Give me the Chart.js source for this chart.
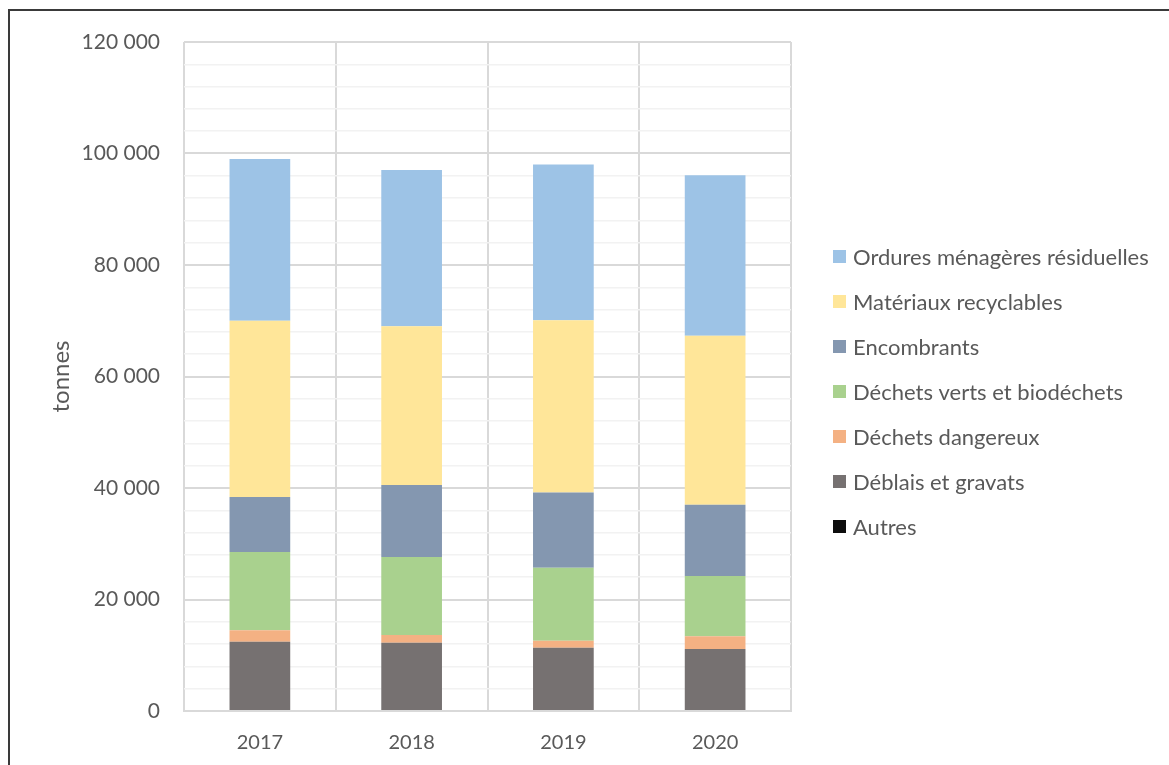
<!DOCTYPE html>
<html>
<head>
<meta charset="utf-8">
<script src="https://cdn.jsdelivr.net/npm/chart.js@4"></script>
<style>
  html, body { margin: 0; padding: 0; background: #fff; }
  #wrap { position: relative; width: 1169px; height: 765px; overflow: hidden; }
  #frame { position: absolute; left: 8px; top: 9px; width: 1200px; height: 800px;
           border-top: 2px solid #3a3a3a; border-left: 2px solid #3a3a3a; }
  canvas { position: absolute; left: 0; top: 0; }
</style>
</head>
<body>
<div id="wrap">
  <div id="frame"></div>
  <canvas id="chart" width="1169" height="765"></canvas>
</div>
<script>
// données (tonnes)
const years = ["2017", "2018", "2019", "2020"];
const autres = [0, 0, 0, 0];
const deblais = [12400, 12250, 11350, 11100];
const dangereux = [2100, 1380, 1260, 2300];
const verts = [14000, 14000, 13100, 10800];
const encombrants = [9900, 12900, 13500, 12800];
const recyclables = [31600, 28500, 30900, 30300];
const omr = [29000, 28000, 27900, 28800];

const fontFamily = "Lato, 'Open Sans', sans-serif";
const textColor = "#595959";

function fmt(v) {
  return String(v).replace(/\B(?=(\d{3})+(?!\d))/g, " ");
}

function ds(label, data, color) {
  return {
    label: label,
    data: data,
    backgroundColor: color,
    borderWidth: 0,
    barPercentage: 0.4,
    categoryPercentage: 1.0
  };
}

// légende à droite, style Excel (série du haut en premier)
const sideLegend = {
  id: "sideLegend",
  afterDraw(chart) {
    const c = chart.ctx;
    const area = chart.chartArea;
    const sets = chart.data.datasets.slice().reverse();
    const rowH = 45;
    const x = area.right + 42;
    const y0 = (area.top + area.bottom) / 2 - (sets.length - 1) * rowH / 2 + 15;
    c.save();
    c.font = "22px " + fontFamily;
    c.textBaseline = "middle";
    sets.forEach((d, i) => {
      const y = y0 + i * rowH;
      c.fillStyle = d.backgroundColor;
      c.fillRect(x, y - 6.5, 13, 13);
      c.fillStyle = textColor;
      c.fillText(d.label, x + 20, y + 1);
    });
    c.restore();
  }
};

const ctx = document.getElementById("chart").getContext("2d");
new Chart(ctx, {
  type: "bar",
  data: {
    labels: years,
    datasets: [
      ds("Autres", autres, "#0d0d0d"),
      ds("Déblais et gravats", deblais, "#767171"),
      ds("Déchets dangereux", dangereux, "#f4b183"),
      ds("Déchets verts et biodéchets", verts, "#a9d18e"),
      ds("Encombrants", encombrants, "#8497b0"),
      ds("Matériaux recyclables", recyclables, "#ffe699"),
      ds("Ordures ménagères résiduelles", omr, "#9dc3e6")
    ]
  },
  plugins: [sideLegend],
  options: {
    responsive: false,
    animation: false,
    layout: { padding: { top: 42, left: 30, right: 378, bottom: 0 } },
    plugins: {
      tooltip: { enabled: false },
      legend: { display: false }
    },
    scales: {
      x: {
        stacked: true,
        afterFit: s => { s.height = 54; },
        grid: { color: "#d9d9d9", lineWidth: 2, drawTicks: false, offset: true },
        border: { color: "#d9d9d9", width: 2 },
        ticks: { color: textColor, padding: 20, font: { family: fontFamily, size: 20 } }
      },
      y: {
        stacked: true,
        min: 0,
        max: 120000,
        afterFit: s => { s.width = 154; },
        title: {
          display: true,
          text: "tonnes",
          color: textColor,
          padding: { top: 17, bottom: 0 },
          font: { family: fontFamily, size: 24 }
        },
        grid: {
          drawTicks: false,
          color: c => (c.tick.value % 20000 === 0 ? "#d9d9d9" : "#f2f2f2"),
          lineWidth: c => (c.tick.value % 20000 === 0 ? 2 : 1.5)
        },
        border: { display: false },
        ticks: {
          stepSize: 4000,
          autoSkip: false,
          padding: 24,
          color: textColor,
          font: { family: fontFamily, size: 21 },
          callback: v => (v % 20000 === 0 ? fmt(v) : "")
        }
      }
    }
  }
});
</script>
</body>
</html>
